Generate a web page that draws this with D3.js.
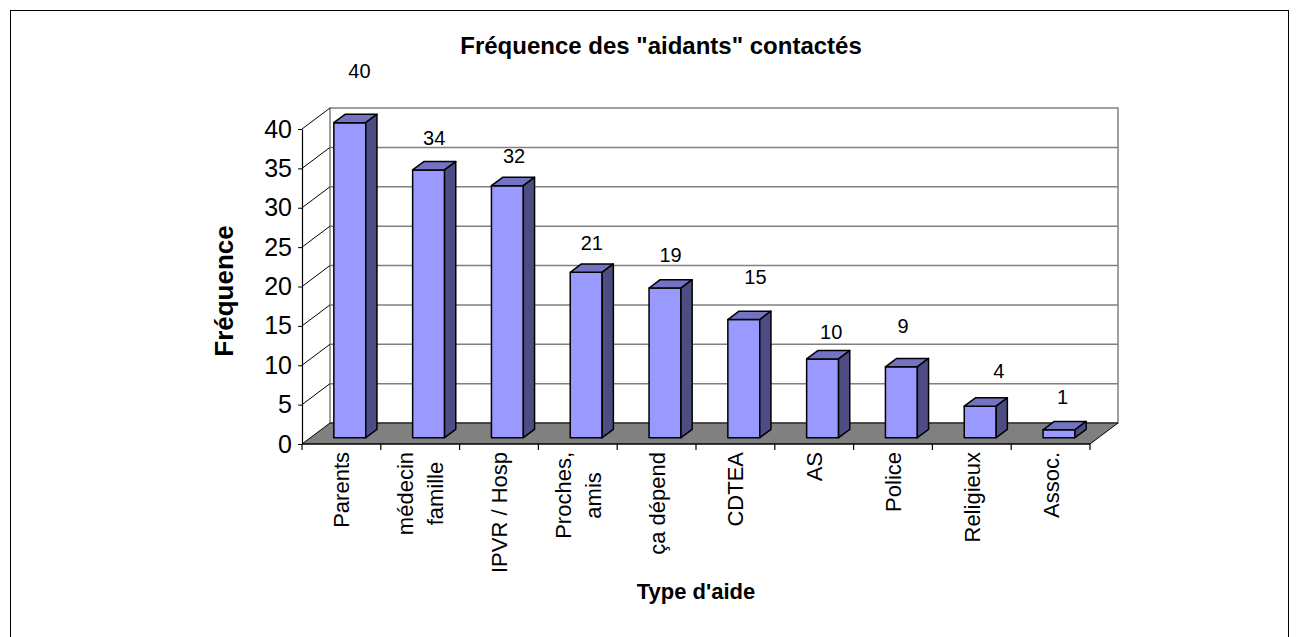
<!DOCTYPE html>
<html>
<head>
<meta charset="utf-8">
<script src="https://cdn.jsdelivr.net/npm/d3@7"></script>
<style>
  html, body { margin: 0; padding: 0; background: #fff; }
  svg { display: block; font-family: "Liberation Sans", Arial, sans-serif; }
</style>
</head>
<body>
<svg id="chart" width="1299" height="637"></svg>
<script>
// Category labels (multi-line labels are split into lines)
const categories = ["Parents", "médecin famille", "IPVR / Hosp", "Proches, amis", "ça dépend",
                    "CDTEA", "AS", "Police", "Religieux", "Assoc."];
const categoryLines = [["Parents"], ["médecin", "famille"], ["IPVR / Hosp"], ["Proches,", "amis"],
                       ["ça dépend"], ["CDTEA"], ["AS"], ["Police"], ["Religieux"], ["Assoc."]];
const frequencies = [40, 34, 32, 21, 19, 15, 10, 9, 4, 1];
const yTicks = [0, 5, 10, 15, 20, 25, 30, 35, 40];

// Layout: small per-label nudges for the value labels (dx, dy in px)
const labelNudgeX = [4, 0, 1, 0, 0, 6, 3, -4, 13, -2];
const labelNudgeY = [-19, 1, 3, 4, 0, -10, 6, -8, -2, 0];

const svg = d3.select("#chart");

// Outer frame
svg.append("rect")
  .attr("x", 10.5).attr("y", 10.5).attr("width", 1278).attr("height", 700)
  .attr("fill", "none").attr("stroke", "#000").attr("stroke-width", 1);

// Front plane scales and 3D depth offset
const x = d3.scaleBand().domain(categories).range([302, 1090]).paddingInner(0).paddingOuter(0);
const y = d3.scaleLinear().domain([0, 40]).range([444, 129]);
const DX = 28, DY = -21;           // full depth of the plot box
const f0 = 0.3, f1 = 0.7;          // bar front / back depth fractions
const barFrac = 0.405;

const x0 = x.range()[0], x1 = x.range()[1];
const grid = svg.append("g");

// Back wall
grid.append("rect")
  .attr("x", x0 + DX).attr("y", y(40) + DY)
  .attr("width", x1 - x0).attr("height", y(0) - y(40))
  .attr("fill", "#fff").attr("stroke", "#808080").attr("stroke-width", 1.5);

// Horizontal gridlines on the back wall
grid.selectAll("line.hgrid").data(yTicks.filter(v => v > 0 && v < 40)).join("line")
  .attr("class", "hgrid")
  .attr("x1", x0 + DX).attr("x2", x1 + DX)
  .attr("y1", d => y(d) + DY).attr("y2", d => y(d) + DY)
  .attr("stroke", "#808080").attr("stroke-width", 1.5);

// Side wall: diagonals from the axis ticks to the back wall
grid.selectAll("line.diag").data(yTicks.filter(v => v > 0)).join("line")
  .attr("class", "diag")
  .attr("x1", x0).attr("y1", d => y(d))
  .attr("x2", x0 + DX).attr("y2", d => y(d) + DY)
  .attr("stroke", "#000").attr("stroke-width", 1);

// Floor
grid.append("polygon")
  .attr("points", [[x0, y(0)], [x1, y(0)], [x1 + DX, y(0) + DY], [x0 + DX, y(0) + DY]].map(p => p.join(",")).join(" "))
  .attr("fill", "#808080").attr("stroke", "#000").attr("stroke-width", 1);

// Bars as 3D boxes
const bars = svg.append("g");
frequencies.forEach((v, i) => {
  const bw = x.bandwidth() * barFrac;
  const bx = x(categories[i]) + (x.bandwidth() - bw) / 2;
  const fx = bx + DX * f0, fyTop = y(v) + DY * f0, fyBot = y(0) + DY * f0;
  const ddx = DX * (f1 - f0), ddy = DY * (f1 - f0);
  const g = bars.append("g").attr("stroke", "#000").attr("stroke-width", 1.5).attr("stroke-linejoin", "round");
  // front face
  g.append("rect").attr("x", fx).attr("y", fyTop).attr("width", bw).attr("height", fyBot - fyTop)
    .attr("fill", "#9999FF");
  // top face
  g.append("polygon")
    .attr("points", [[fx, fyTop], [fx + bw, fyTop], [fx + bw + ddx, fyTop + ddy], [fx + ddx, fyTop + ddy]].map(p => p.join(",")).join(" "))
    .attr("fill", "#7373C4");
  // right side face
  g.append("polygon")
    .attr("points", [[fx + bw, fyTop], [fx + bw + ddx, fyTop + ddy], [fx + bw + ddx, fyBot + ddy], [fx + bw, fyBot]].map(p => p.join(",")).join(" "))
    .attr("fill", "#4D4D84");
});

// Value labels
svg.append("g").selectAll("text").data(frequencies).join("text")
  .attr("x", (d, i) => x(categories[i]) + x.bandwidth() / 2 + DX / 2 + labelNudgeX[i])
  .attr("y", (d, i) => y(d) + DY * f0 - 26 + labelNudgeY[i])
  .attr("text-anchor", "middle")
  .attr("font-size", 20)
  .attr("fill", "#000")
  .text(d => d);

// Y axis
const yAxis = d3.axisLeft(y).tickValues(yTicks).tickSize(4).tickSizeOuter(0).tickPadding(6);
const yg = svg.append("g").attr("transform", `translate(${x0},0)`).call(yAxis);
yg.select(".domain").attr("stroke", "#000").attr("stroke-width", 1.2);
yg.selectAll(".tick line").attr("stroke", "#000");
yg.selectAll(".tick text").attr("font-size", 25).attr("font-family", "Liberation Sans, Arial, sans-serif").attr("fill", "#000");

// X axis line with ticks at the category boundaries
const xg = svg.append("g");
xg.append("line").attr("x1", x0).attr("x2", x1).attr("y1", y(0)).attr("y2", y(0))
  .attr("stroke", "#000").attr("stroke-width", 1.2);
xg.selectAll("line.xt").data(d3.range(categories.length + 1)).join("line")
  .attr("class", "xt")
  .attr("x1", i => x0 + i * x.step()).attr("x2", i => x0 + i * x.step())
  .attr("y1", y(0)).attr("y2", y(0) + 6)
  .attr("stroke", "#000").attr("stroke-width", 1.2);

// Category labels, rotated, top-aligned under the axis
const labelTop = 452, lineGap = 30, labelSize = 22;
categoryLines.forEach((lines, i) => {
  const cx = x(categories[i]) + x.bandwidth() / 2;
  const texts = lines.map((ln, j) => {
    return xg.append("text")
      .attr("font-size", labelSize)
      .attr("fill", "#000")
      .attr("text-anchor", "middle")
      .text(ln);
  });
  const maxLen = d3.max(texts, t => t.node().getComputedTextLength());
  texts.forEach((t, j) => {
    const bx = cx + (j - (lines.length - 1) / 2) * lineGap + 8;
    t.attr("transform", `translate(${bx},${labelTop + maxLen / 2}) rotate(-90)`);
  });
});

// Titles
svg.append("text").attr("x", 661).attr("y", 54).attr("text-anchor", "middle")
  .attr("font-size", 24).attr("font-weight", "bold").text('Fréquence des "aidants" contactés');
svg.append("text").attr("x", 696).attr("y", 599).attr("text-anchor", "middle")
  .attr("font-size", 22).attr("font-weight", "bold").text("Type d'aide");
svg.append("text").attr("transform", "translate(233,291) rotate(-90)").attr("text-anchor", "middle")
  .attr("font-size", 26).attr("font-weight", "bold").text("Fréquence");
</script>
</body>
</html>
